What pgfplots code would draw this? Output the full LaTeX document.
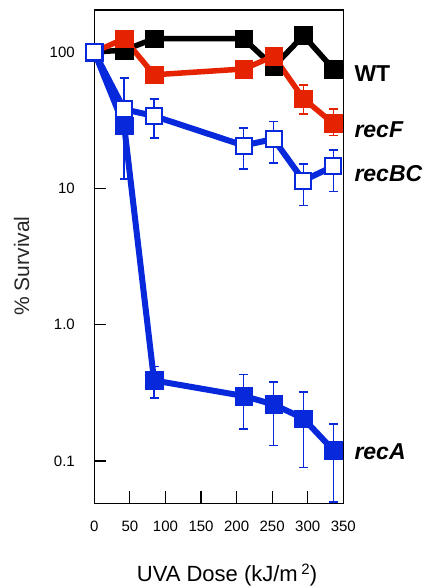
\documentclass[border=0pt]{standalone}
\usepackage{fontspec}
\setmainfont{Liberation Sans}
\usepackage{pgfplots}
\pgfplotsset{compat=1.18}

\definecolor{recred}{RGB}{230,35,0}
\definecolor{recblue}{RGB}{8,40,220}

\begin{document}
\begin{tikzpicture}
% page = 430 x 588, axis box lower left at (0,0)
\path[use as bounding box] (-94.3pt,-84.7pt) rectangle (335.7pt,503.3pt);
\begin{axis}[
    scale only axis,
    width=249pt, height=493.3pt,
    ymode=log,
    xmin=0, xmax=350,
    ymin=0.049, ymax=203,
    xtick={0,50,...,350},
    ytick={0.1,1,10,100},
    yticklabels={0.1,1.0,10,100},
    yminorticks=false,
    tick align=inside,
    xtick pos=lower, ytick pos=left,
    major tick length=12pt,
    axis line style={line width=1.2pt},
    every tick/.append style={line width=1.2pt, black},
    /pgf/number format/assume math mode=true,
    tick label style={font=\fontsize{15}{18}\selectfont},
    xticklabel style={yshift=-14pt},
    yticklabel style={xshift=-16pt},
    xlabel={UVA Dose (kJ/m\,\raisebox{6.5pt}{\fontsize{15}{15}\selectfont 2})},
    xlabel style={at={(axis description cs:0.533,-0.1453)}, anchor=center,
        font=\fontsize{22}{26}\selectfont},
    ylabel={\% Survival},
    ylabel style={at={(axis description cs:-0.2916,0.481)}, anchor=center,
        font=\fontsize{21}{25}\selectfont, black!85},
    clip=false,
    error bars/y dir=both,
    error bars/y explicit,
    error bars/error bar style={line width=1.5pt},
    error bars/error mark options={rotate=90, mark size=4.5pt, line width=1.5pt},
]

% WT
\addplot[black, line width=5.5pt, mark=square*, mark size=8.8pt,
    mark options={line width=0.4pt}, error bars/y dir=none]
coordinates {(0,100) (42,103) (84,125) (210,125) (252,78) (294,132) (336,75)};

% recF
\addplot[recred, line width=5.5pt, mark=square*, mark size=8.8pt,
    mark options={line width=0.4pt}]
coordinates {(0,100) (42,125) (84,68) (210,75) (252,93)
    (294,45.4) += (0,11.9) -= (0,10.4)
    (336,29.9) += (0,8.3) -= (0,5.6)};

% recA
\addplot[recblue, line width=6pt, mark=square*, mark size=8.8pt,
    mark options={line width=0.4pt}]
coordinates {(0,100) (42,28.7)
    (84,0.39) += (0,0.105) -= (0,0.10)
    (210,0.30) += (0,0.13) -= (0,0.128)
    (252,0.26) += (0,0.12) -= (0,0.13)
    (294,0.205) += (0,0.115) -= (0,0.115)
    (336,0.12) += (0,0.067) -= (0,0.07)};

% recBC
\addplot[recblue, line width=6pt, mark=square*, mark size=8pt,
    mark options={fill=white, draw=recblue, line width=2pt}]
coordinates {(0,100)
    (42,38) += (0,26.5) -= (0,26.3)
    (84,33.9) += (0,11.4) -= (0,10.5)
    (210,20.6) += (0,7) -= (0,6.7)
    (252,23) += (0,7.8) -= (0,7.7)
    (294,11.4) += (0,3.7) -= (0,3.9)
    (336,14.5) += (0,4.6) -= (0,5)};

\begin{scope}[every node/.style={anchor=west, inner sep=0pt, xshift=11pt,
    font=\fontsize{23}{27}\selectfont\bfseries}]
\node at (axis cs:350,69.3) {WT};
\node at (axis cs:350,26.8) {\itshape recF};
\node at (axis cs:350,12.8) {\itshape recBC};
\node at (axis cs:350,0.1175) {\itshape recA};
\end{scope}
\end{axis}
\end{tikzpicture}
\end{document}
